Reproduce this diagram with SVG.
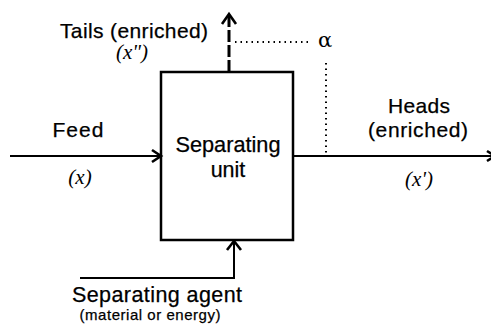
<svg xmlns="http://www.w3.org/2000/svg" width="491" height="327" viewBox="0 0 491 327">
<style>
.t{font-family:"Liberation Sans",Arial,sans-serif;fill:#000;text-anchor:middle;stroke:#000;stroke-width:0.25}
.v{font-family:"Liberation Serif","Times New Roman",serif;font-style:italic;fill:#000;text-anchor:middle;font-size:21px}
.ln{stroke:#000;stroke-width:2;fill:none}
.dot{stroke:#000;stroke-width:2;fill:none;stroke-dasharray:1.5,4}
.head{fill:none;stroke:#000;stroke-width:2.6}
</style>
<rect width="491" height="327" fill="#fff"/>
<g id="connectors">
<path class="ln" d="M10,156 H160"/>
<path class="head" d="M152,150 L161,156 L152,162"/>
<path d="M229,72 V16" stroke="#000" stroke-width="3" fill="none" stroke-dasharray="12,3"/>
<path class="head" d="M222,24 L229,14 L236,24" stroke-width="2.8"/>
<path class="ln" d="M293,156 H491"/>
<path class="head" d="M487,151 L495,156 L487,161"/>
<path class="ln" d="M80,278 H234 V242" stroke-width="2.8"/>
<path class="head" d="M227,250 L234,241 L241,250" stroke-width="2.8"/>
<path class="dot" d="M235,42 H312"/>
<path class="dot" d="M326,63 V153"/>
</g>
<g id="unit">
<rect x="161" y="72" width="132" height="168" fill="none" stroke="#000" stroke-width="2.5"/>
<text class="t" x="228" y="152" font-size="21.5" textLength="105" lengthAdjust="spacingAndGlyphs">Separating</text>
<text class="t" x="228" y="177" font-size="21.5">unit</text>
</g>
<g id="feed">
<text class="t" x="78" y="137" font-size="21" textLength="51" lengthAdjust="spacing">Feed</text>
<text class="v" x="80" y="184">(x)</text>
</g>
<g id="tails">
<text class="t" x="134" y="37.5" font-size="21" textLength="148" lengthAdjust="spacing">Tails (enriched)</text>
<text class="v" x="132" y="59">(x")</text>
</g>
<g id="alpha">
<text x="325" y="47" font-size="21" font-family="DejaVu Serif,serif" text-anchor="middle">α</text>
</g>
<g id="heads">
<text class="t" x="419" y="113" font-size="21" textLength="62" lengthAdjust="spacing">Heads</text>
<text class="t" x="418" y="137" font-size="21" textLength="100" lengthAdjust="spacing">(enriched)</text>
<text class="v" x="419" y="186">(x')</text>
</g>
<g id="agent">
<text class="t" x="157" y="302" font-size="21.5" textLength="170" lengthAdjust="spacing">Separating agent</text>
<text class="t" x="150" y="320" font-size="15" textLength="141" lengthAdjust="spacing">(material or energy)</text>
</g>
</svg>
